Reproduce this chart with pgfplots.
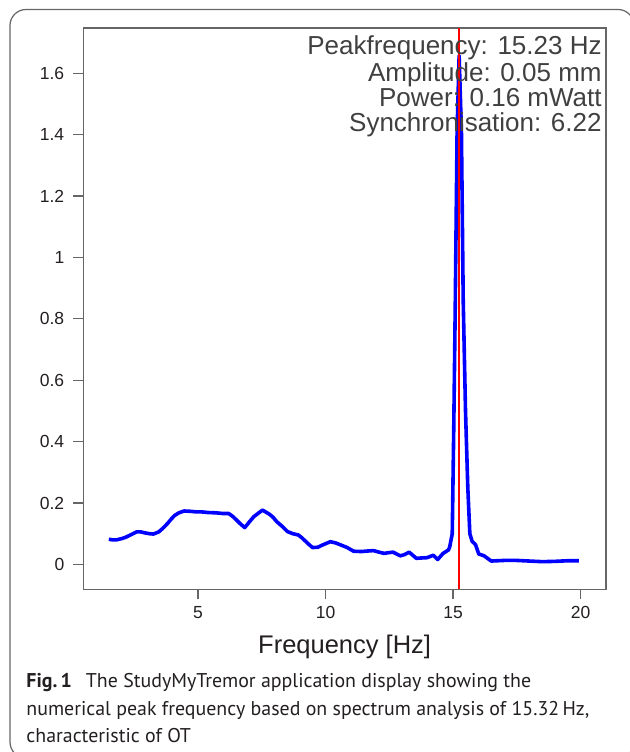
\documentclass[border=0pt]{standalone}
\usepackage{fontspec}
\setmainfont{Liberation Sans}
\newfontfamily\capfont{PT Sans}
\usepackage{pgfplots}
\pgfplotsset{compat=1.18}
\definecolor{axgray}{HTML}{666666}
\definecolor{txtgray}{HTML}{404040}
\definecolor{capblack}{HTML}{231F20}
\begin{document}
\begin{tikzpicture}
\useasboundingbox (0,0) rectangle (314.5pt,376pt);
\draw[axgray, line width=0.6pt, rounded corners=8pt] (5pt,-3pt) rectangle (317pt,371.25pt);
\begin{axis}[
  at={(41.65pt,81.35pt)}, anchor=south west,
  scale only axis, width=261.35pt, height=280.65pt,
  xmin=0.5, xmax=21, ymin=-0.081, ymax=1.747,
  xtick={5,10,15,20},
  ytick={0,0.2,0.4,0.6,0.8,1,1.2,1.4,1.6},
  yticklabels={0,0.2,0.4,0.6,0.8,1,1.2,1.4,1.6},
  tick align=outside, xtick pos=bottom, ytick pos=left,
  major tick length=5pt,
  axis line style={axgray, line width=0.65pt},
  every tick/.style={axgray, line width=0.6pt},
  /pgf/number format/assume math mode=true,
  tick label style={font=\fontsize{8.75}{10}\selectfont, text=capblack},
  yticklabel style={xshift=-1pt},
  xlabel={Frequency [Hz]},
  xlabel style={font=\fontsize{12.75}{14}\selectfont, text=capblack, at={(axis description cs:0.5,-0.103)}, anchor=center},
  clip=false,
]
\addplot[blue, line width=1.8pt, line join=round] coordinates {
(1.50,0.082) (1.65,0.080) (1.80,0.080) (2.00,0.084) (2.15,0.088) (2.35,0.096)
(2.59,0.106) (2.75,0.106) (2.90,0.103) (3.10,0.100) (3.25,0.099) (3.46,0.106)
(3.65,0.120) (3.81,0.134) (3.95,0.148) (4.09,0.160) (4.25,0.168) (4.45,0.174)
(4.70,0.173) (4.95,0.171) (5.15,0.171) (5.40,0.169) (5.71,0.168) (5.95,0.166)
(6.20,0.166) (6.35,0.157) (6.48,0.147) (6.65,0.133) (6.83,0.120) (7.00,0.137)
(7.18,0.155) (7.35,0.166) (7.53,0.177) (7.67,0.170) (7.81,0.163) (7.95,0.153)
(8.09,0.139) (8.30,0.124) (8.51,0.107) (8.72,0.100) (8.93,0.096) (9.07,0.087)
(9.21,0.076) (9.35,0.065) (9.49,0.055) (9.70,0.056) (9.90,0.064) (10.19,0.074)
(10.40,0.070) (10.61,0.063) (10.85,0.055) (11.10,0.043) (11.40,0.042) (11.70,0.044)
(11.88,0.045) (12.10,0.040) (12.30,0.036) (12.45,0.038) (12.65,0.040) (12.93,0.028)
(13.10,0.032) (13.28,0.040) (13.56,0.020) (13.75,0.021) (13.98,0.022) (14.23,0.030)
(14.40,0.016) (14.61,0.036) (14.82,0.047) (14.87,0.057) (14.97,0.100) (15.03,0.45)
(15.09,0.86) (15.16,1.41) (15.24,1.657) (15.33,1.41) (15.40,0.86) (15.49,0.50)
(15.58,0.25) (15.66,0.100) (15.75,0.075) (15.88,0.065) (16.01,0.034) (16.22,0.028)
(16.50,0.011) (17.00,0.013) (17.50,0.013) (18.00,0.011) (18.50,0.009) (19.00,0.010)
(19.50,0.012) (19.94,0.012)
};
\addplot[red, line width=0.75pt] coordinates {(15.23,-0.081) (15.23,1.747)};
\node[anchor=base east, inner sep=0, text=txtgray, font=\fontsize{13}{15}\selectfont] at (axis description cs:0.9924,0.952) {Peakfrequency: 15.23 Hz};
\node[anchor=base east, inner sep=0, text=txtgray, font=\fontsize{13}{15}\selectfont] at (axis description cs:0.9924,0.9043) {Amplitude: 0.05 mm};
\node[anchor=base east, inner sep=0, text=txtgray, font=\fontsize{13}{15}\selectfont] at (axis description cs:0.9924,0.8598) {Power: 0.16 mWatt};
\node[anchor=base east, inner sep=0, text=txtgray, font=\fontsize{13}{15}\selectfont] at (axis description cs:0.9924,0.8152) {Synchronisation: 6.22};
\end{axis}
\node[anchor=base west, inner sep=0, text=capblack, font=\capfont\fontsize{9.95}{13.5}\selectfont] at (13pt,32pt) {\textbf{Fig.\,1}\hspace{0.7em}The StudyMyTremor application display showing the};
\node[anchor=base west, inner sep=0, text=capblack, font=\capfont\fontsize{9.95}{13.5}\selectfont] at (13pt,18.5pt) {numerical peak frequency based on spectrum analysis of 15.32\,Hz,};
\node[anchor=base west, inner sep=0, text=capblack, font=\capfont\fontsize{9.95}{13.5}\selectfont] at (13pt,5pt) {characteristic of OT};
\end{tikzpicture}
\end{document}
